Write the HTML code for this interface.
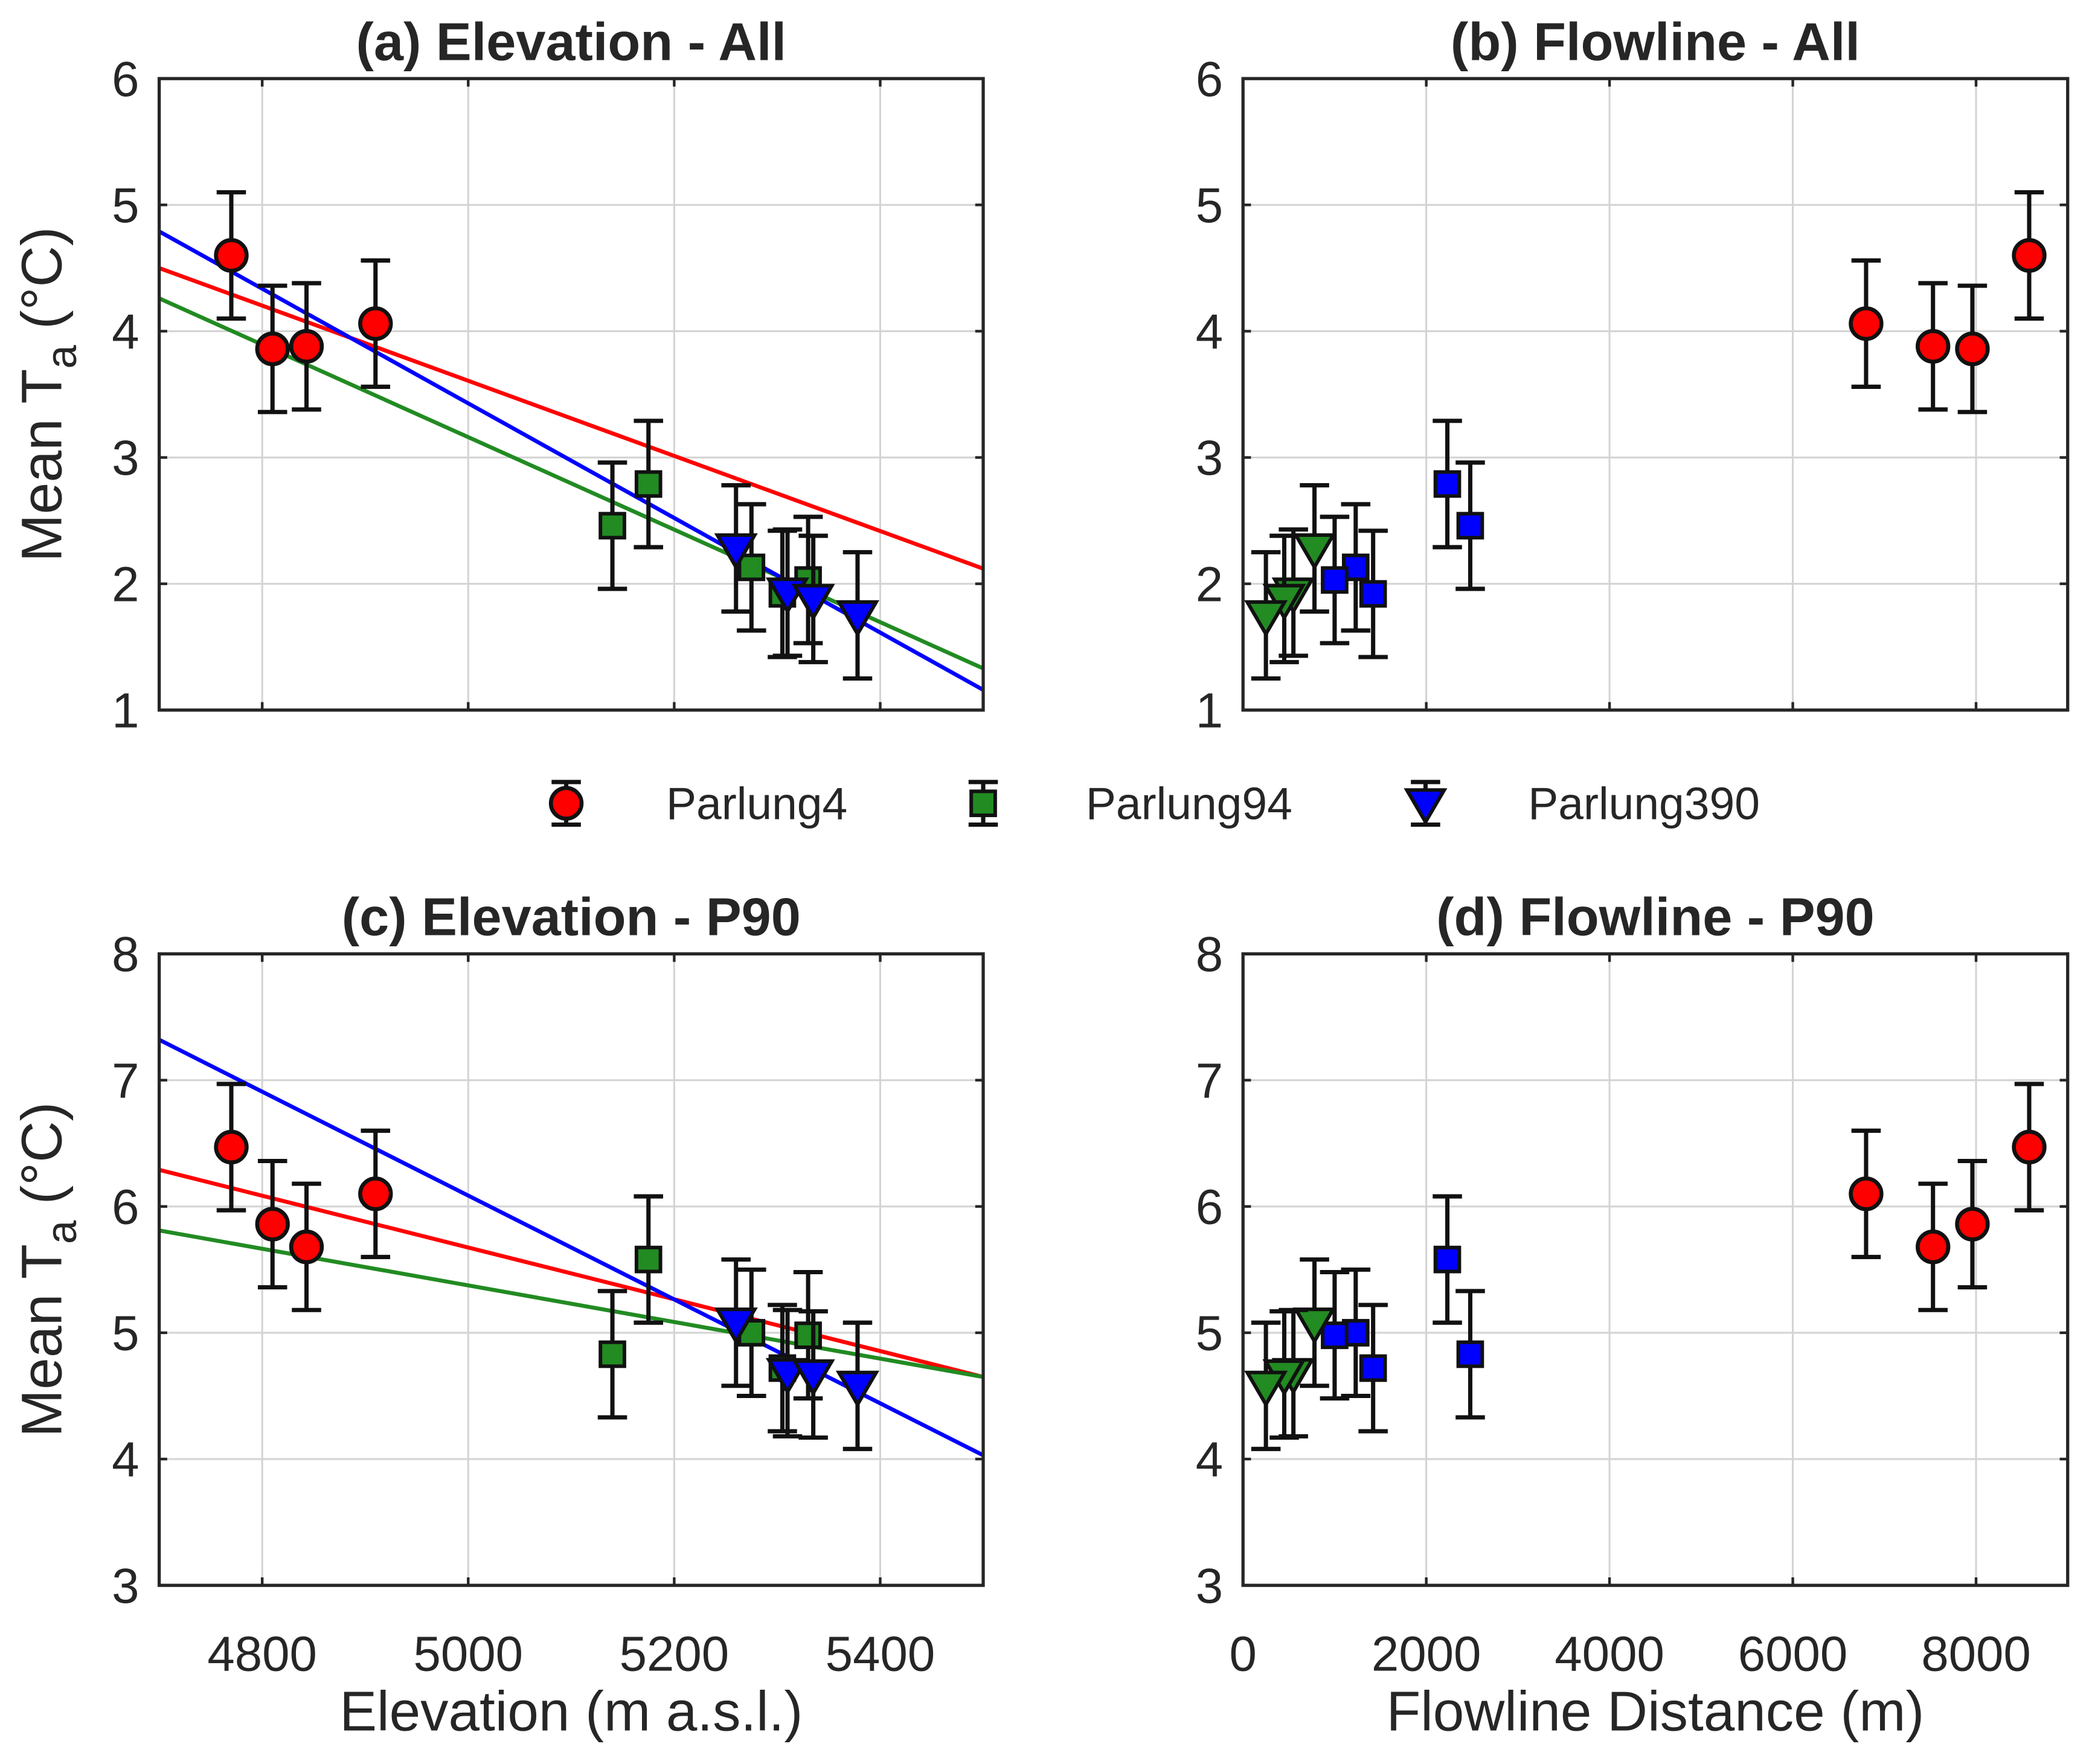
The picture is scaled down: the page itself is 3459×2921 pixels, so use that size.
<!DOCTYPE html>
<html><head><meta charset="utf-8">
<style>
html,body{margin:0;padding:0;background:#fff;}
svg{display:block;}
text{font-family:"Liberation Sans",Arial,sans-serif;fill:#262626;}
</style></head>
<body>
<svg id="fig" width="3459" height="2921" viewBox="0 0 1568 1324.1" preserveAspectRatio="none" xmlns="http://www.w3.org/2000/svg">
<rect width="1568" height="1325" fill="#fff"/>
</svg>
<script>
// ---- data ----
const p4Elev=[4770,4810,4843,4910];
const p4Dist=[8580,7960,7530,6800];
const p4All=[4.60,3.86,3.88,4.06];
const p4P90=[6.47,5.86,5.68,6.10];
const p94Elev=[5140,5175,5275,5305,5330];
const p94Dist=[2480,2230,1230,1420,1000];
const p94All=[2.46,2.79,2.13,1.92,2.03];
const p94P90=[4.83,5.58,5.00,4.72,4.98];
const p390Elev=[5260,5310,5335,5378];
const p390Dist=[780,550,450,250];
const p390All=[2.28,1.93,1.88,1.75];
const p390P90=[5.08,4.68,4.67,4.58];
const errAll=[0.5];
const fitAllStart=[4.50,4.26,4.79];
const fitAllEnd=[2.12,1.33,1.16];
const fitP90Start=[6.29,5.81,7.32];
const fitP90End=[4.65,4.65,4.03];
const elevTicks=[4800,5000,5200,5400];
const distTicks=[0,2000,4000,6000,8000];
const yTicksAll=[1,2,3,4,5,6];
const yTicksP90=[3,4,5,6,7,8];

const NS="http://www.w3.org/2000/svg";
const svg=document.getElementById('fig');
function el(tag,attrs,parent){const e=document.createElementNS(NS,tag);for(const k in attrs)e.setAttribute(k,attrs[k]);(parent||svg).appendChild(e);return e;}

const RED='#ff0000',GRN='#228b22',BLU='#0000ff';

function panel(opt){
  const g=el('g',{});
  
  
  const L=opt.L,R=opt.R,T=opt.T,B=opt.B;
  const xs=v=>L+(v-opt.x0)/(opt.x1-opt.x0)*(R-L);
  const ys=v=>B-(v-opt.y0)/(opt.y1-opt.y0)*(B-T);
  opt.xt.forEach(t=>{const l=el('line',{x1:xs(t),x2:xs(t),y1:T,y2:B,stroke:'#d4d4d4','stroke-width':1.4},g);
    });
  opt.yt.forEach(t=>{const l=el('line',{x1:L,x2:R,y1:ys(t),y2:ys(t),stroke:'#d4d4d4','stroke-width':1.4},g);
    });
  if(opt.fits){const cols=[RED,GRN,BLU];
    for(let i=0;i<3;i++){const l=el('line',{x1:xs(opt.x0),y1:ys(opt.fits[0][i]),x2:xs(opt.x1),y2:ys(opt.fits[1][i]),stroke:cols[i],'stroke-width':3},g);
      }}
  opt.series.forEach(s=>{
    for(let i=0;i<s.x.length;i++){
      const cx=xs(s.x[i]),cy=ys(s.y[i]),e=errAll[0];
      const eb=el('path',{d:`M${cx},${ys(s.y[i]-e)}V${ys(s.y[i]+e)}M${cx-11},${ys(s.y[i]+e)}H${cx+11}M${cx-11},${ys(s.y[i]-e)}H${cx+11}`,stroke:'#111','stroke-width':3.2,fill:'none'},g);
      
      let m;
      if(s.shape==='c') m=el('circle',{cx:cx,cy:cy,r:11.5,fill:s.c,stroke:'#111','stroke-width':3},g);
      else if(s.shape==='s') m=el('rect',{x:cx-9,y:cy-9,width:18,height:18,fill:s.c,stroke:'#111','stroke-width':2.7},g);
      else m=el('path',{d:`M${cx-14},${cy-10}H${cx+14}L${cx},${cy+14}Z`,fill:s.c,stroke:'#111','stroke-width':2.7},g);
      
    }
  });
  const bx=el('rect',{x:L,y:T,width:R-L,height:B-T,fill:'none',stroke:'#262626','stroke-width':2.4},g);
  
  opt.xt.forEach(t=>{
    el('line',{x1:xs(t),x2:xs(t),y1:B,y2:B-6,stroke:'#262626','stroke-width':2},g);
    el('line',{x1:xs(t),x2:xs(t),y1:T,y2:T+6,stroke:'#262626','stroke-width':2},g);
    if(opt.showX){const tx=el('text',{x:xs(t),y:B+64,'font-size':37,'text-anchor':'middle'},g);tx.textContent=t;
      }
  });
  opt.yt.forEach(t=>{
    el('line',{x1:L,x2:L+6,y1:ys(t),y2:ys(t),stroke:'#262626','stroke-width':2},g);
    el('line',{x1:R,x2:R-6,y1:ys(t),y2:ys(t),stroke:'#262626','stroke-width':2},g);
    const tx=el('text',{x:L-15,y:ys(t)+13,'font-size':37,'text-anchor':'end'},g);tx.textContent=t;
    
  });
  const ti=el('text',{x:(L+R)/2,y:T-14,'font-size':40,'font-weight':'bold','text-anchor':'middle'},g);ti.textContent=opt.title;
  
  if(opt.xlabel){const xl=el('text',{x:(L+R)/2,y:B+109,'font-size':42,'text-anchor':'middle'},g);xl.textContent=opt.xlabel;
    }
  if(opt.ylabel){const cy=(T+B)/2;
    const yl=el('text',{x:0,y:0,'font-size':43,'text-anchor':'middle',transform:`translate(46,${cy}) rotate(-90)`},g);
    yl.innerHTML='Mean T<tspan font-size="32" dy="11">a</tspan><tspan dy="-11"> (°C)</tspan>';
    }
}
const eX={x0:4700,x1:5500,L:119.5,R:738,xt:elevTicks};
const dX={x0:0,x1:9000,L:933,R:1552,xt:distTicks};
panel({...eX,name:'panel-a',T:59,B:533,y0:1,y1:6,yt:yTicksAll,title:'(a) Elevation - All',ylabel:true,showX:false,
  fits:[fitAllStart,fitAllEnd],
  series:[{x:p4Elev,y:p4All,c:RED,shape:'c',n:'parlung4'},{x:p94Elev,y:p94All,c:GRN,shape:'s',n:'parlung94'},{x:p390Elev,y:p390All,c:BLU,shape:'t',n:'parlung390'}]});
panel({...dX,name:'panel-b',T:59,B:533,y0:1,y1:6,yt:yTicksAll,title:'(b) Flowline - All',showX:false,
  series:[{x:p4Dist,y:p4All,c:RED,shape:'c',n:'parlung4'},{x:p94Dist,y:p94All,c:BLU,shape:'s',n:'parlung94'},{x:p390Dist,y:p390All,c:GRN,shape:'t',n:'parlung390'}]});
panel({...eX,name:'panel-c',T:716,B:1190,y0:3,y1:8,yt:yTicksP90,title:'(c) Elevation - P90',ylabel:true,showX:true,xlabel:'Elevation (m a.s.l.)',
  fits:[fitP90Start,fitP90End],
  series:[{x:p4Elev,y:p4P90,c:RED,shape:'c',n:'parlung4'},{x:p94Elev,y:p94P90,c:GRN,shape:'s',n:'parlung94'},{x:p390Elev,y:p390P90,c:BLU,shape:'t',n:'parlung390'}]});
panel({...dX,name:'panel-d',T:716,B:1190,y0:3,y1:8,yt:yTicksP90,title:'(d) Flowline - P90',showX:true,xlabel:'Flowline Distance (m)',
  series:[{x:p4Dist,y:p4P90,c:RED,shape:'c',n:'parlung4'},{x:p94Dist,y:p94P90,c:BLU,shape:'s',n:'parlung94'},{x:p390Dist,y:p390P90,c:GRN,shape:'t',n:'parlung390'}]});

const lg=el('g',{});


const legItems=[['Parlung4',RED,'c',425,500],['Parlung94',GRN,'s',738,815],['Parlung390',BLU,'t',1070,1147]];
legItems.forEach(it=>{
  const [name,c,sh,mx,tx]=it,cy=603;
  const g=el('g',{},lg);
  
  
  el('path',{d:`M${mx},${cy-16}V${cy+16}M${mx-11},${cy-16}H${mx+11}M${mx-11},${cy+16}H${mx+11}`,stroke:'#111','stroke-width':3.2,fill:'none'},g);
  if(sh==='c')el('circle',{cx:mx,cy:cy,r:11.5,fill:c,stroke:'#111','stroke-width':3},g);
  else if(sh==='s')el('rect',{x:mx-9,y:cy-9,width:18,height:18,fill:c,stroke:'#111','stroke-width':2.7},g);
  else el('path',{d:`M${mx-14},${cy-10}H${mx+14}L${mx},${cy+14}Z`,fill:c,stroke:'#111','stroke-width':2.7},g);
  const t=el('text',{x:tx,y:cy+12,'font-size':34},g);t.textContent=name;
});
</script>
</body></html>
